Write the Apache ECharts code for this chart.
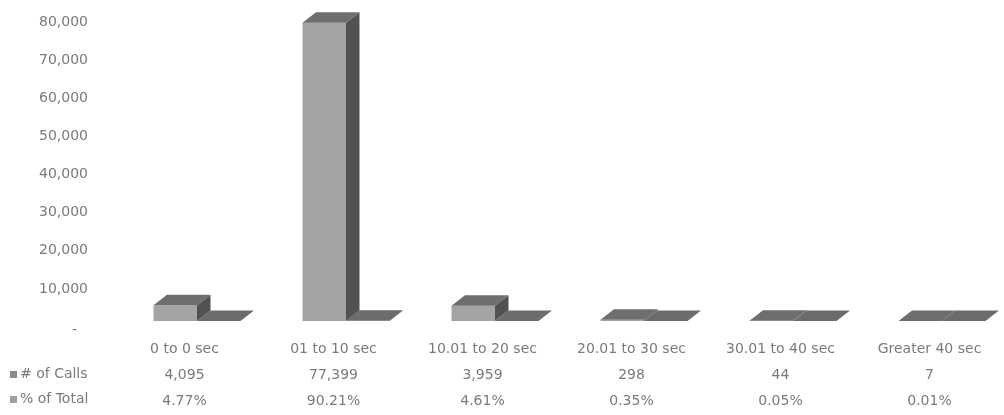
<!DOCTYPE html>
<html>
<head>
<meta charset="utf-8">
<script src="https://cdn.jsdelivr.net/npm/echarts@6/dist/echarts.min.js"></script>
<style>
  html, body { margin: 0; padding: 0; background: #fff; }
  #main { width: 1004px; height: 415px; }
</style>
</head>
<body>
<div id="main"></div>
<script>
var categories = ['0 to 0 sec', '01 to 10 sec', '10.01 to 20 sec', '20.01 to 30 sec', '30.01 to 40 sec', 'Greater 40 sec'];
var calls = [4095, 77399, 3959, 298, 44, 7];
var pctTotal = [4.77, 90.21, 4.61, 0.35, 0.05, 0.01];
var seriesNames = ['# of Calls', '% of Total'];

// 3d look: front face, side face, top face
var FRONT_X = -31, BAR_W = 43.5, DX = 13.5, DY = -10.5, LIFT = -6, H_SCALE = 1.011;

function makeBox(off, col) {
    return function (params, api) {
        var i = api.value(0);
        var base = api.coord([i, 0]);
        var top = api.coord([i, api.value(1)]);
        var x0 = base[0] + FRONT_X + off;
        var x1 = x0 + BAR_W;
        var yb = base[1] + LIFT;
        var yt = yb - (base[1] - top[1]) * H_SCALE;
        return {
            type: 'group',
            children: [
                { type: 'polygon', shape: { points: [[x0, yt], [x1, yt], [x1, yb], [x0, yb]] }, style: { fill: col.front } },
                { type: 'polygon', shape: { points: [[x1, yt], [x1 + DX, yt + DY], [x1 + DX, yb + DY], [x1, yb]] }, style: { fill: col.side } },
                { type: 'polygon', shape: { points: [[x0, yt], [x1, yt], [x1 + DX, yt + DY], [x0 + DX, yt + DY]] }, style: { fill: col.top } }
            ]
        };
    };
}

var myChart = echarts.init(document.getElementById('main'));

var txt = { color: '#7a7a7a', fontFamily: 'DejaVu Sans', fontSize: 14 };

var option = {
    animation: false,
    grid: { left: 110, right: -18, top: 22, bottom: 88 },
    xAxis: {
        type: 'category',
        data: categories,
        axisLine: { show: false },
        axisTick: { show: false },
        axisLabel: {
            interval: 0,
            margin: 9,
            lineHeight: 26,
            color: txt.color,
            fontFamily: txt.fontFamily,
            fontSize: txt.fontSize,
            formatter: function (val, idx) {
                return val + '\n' + calls[idx].toLocaleString('en-US') + '\n' + pctTotal[idx].toFixed(2) + '%';
            }
        }
    },
    yAxis: {
        type: 'value',
        min: 0,
        max: 80000,
        interval: 10000,
        splitLine: { show: false },
        axisLine: { show: false },
        axisTick: { show: false },
        axisLabel: {
            margin: 22,
            color: txt.color,
            fontFamily: txt.fontFamily,
            fontSize: txt.fontSize,
            formatter: function (v) {
                return v === 0 ? '{z|-}' : v.toLocaleString('en-US');
            },
            rich: { z: { padding: [7, 11, 0, 0], color: txt.color, fontSize: 14, fontFamily: txt.fontFamily } }
        }
    },
    graphic: [
        { type: 'rect', left: 10, top: 371, shape: { width: 7, height: 7 }, style: { fill: '#8a8a8a' } },
        { type: 'text', left: 20, top: 367, style: { text: seriesNames[0], fill: txt.color, font: '14px "DejaVu Sans"' } },
        { type: 'rect', left: 10, top: 396, shape: { width: 7, height: 7 }, style: { fill: '#a0a0a0' } },
        { type: 'text', left: 20, top: 392, style: { text: seriesNames[1], fill: txt.color, font: '14px "DejaVu Sans"' } }
    ],
    series: [
        {
            name: seriesNames[0],
            type: 'custom',
            renderItem: makeBox(0, { front: '#a4a4a4', side: '#525252', top: '#6e6e6e' }),
            encode: { x: 0, y: 1 },
            data: calls.map(function (v, i) { return [i, v]; })
        },
        {
            name: seriesNames[1],
            type: 'custom',
            renderItem: makeBox(BAR_W, { front: '#8a8a8a', side: '#454545', top: '#6c6c6c' }),
            encode: { x: 0, y: 1 },
            data: pctTotal.map(function (v, i) { return [i, v]; })
        }
    ]
};
myChart.setOption(option);
</script>
</body>
</html>
